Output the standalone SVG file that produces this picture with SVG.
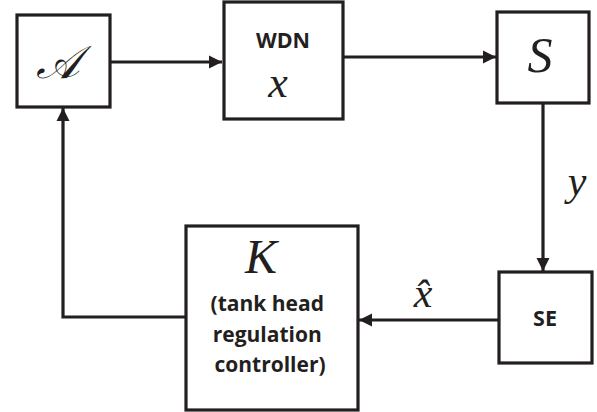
<svg xmlns="http://www.w3.org/2000/svg" width="597" height="412" viewBox="0 0 597 412">
<style>
.box{fill:#fff;stroke:#231f20;stroke-width:3.2}
.ln{fill:none;stroke:#231f20;stroke-width:3.2}
.math{font-family:"Liberation Serif","DejaVu Serif",serif;font-style:italic;fill:#231f20}
.lbl{font-family:"Open Sans",Lato,"Liberation Sans",sans-serif;font-weight:bold;fill:#231f20}
</style>
<defs>
<marker id="ah" markerUnits="userSpaceOnUse" markerWidth="14" markerHeight="14" viewBox="0 0 14 14" refX="13" refY="7" orient="auto">
<path d="M0,0.5 L13,7 L0,13.5 Z" fill="#231f20"/>
</marker>
</defs>
<g id="connectors">
<line class="ln" x1="110" y1="62" x2="222" y2="62" marker-end="url(#ah)"/>
<line class="ln" x1="343" y1="57" x2="496" y2="57" marker-end="url(#ah)"/>
<line class="ln" x1="543" y1="103" x2="543" y2="271" marker-end="url(#ah)"/>
<line class="ln" x1="499" y1="320" x2="359" y2="320" marker-end="url(#ah)"/>
<polyline class="ln" points="186,317 63,317 63,108" marker-end="url(#ah)"/>
<text class="math" x="577" y="195" font-size="42" text-anchor="middle">y</text>
<text class="math" x="423" y="307" font-size="42" text-anchor="middle">x̂</text>
</g>
<g id="node-A">
<rect class="box" x="17" y="15" width="93" height="92"/>
<text class="math" x="58" y="78" font-size="46" text-anchor="middle">𝒜</text>
</g>
<g id="node-WDN">
<rect class="box" x="224" y="2" width="119" height="117"/>
<text class="lbl" x="283" y="48" font-size="21.5" text-anchor="middle">WDN</text>
<text class="math" x="278" y="97" font-size="44" text-anchor="middle">x</text>
</g>
<g id="node-S">
<rect class="box" x="497" y="12" width="92" height="91"/>
<text class="math" x="540" y="72" font-size="50" text-anchor="middle">S</text>
</g>
<g id="node-SE">
<rect class="box" x="499" y="272" width="93" height="91"/>
<text class="lbl" x="545" y="326" font-size="21.5" text-anchor="middle">SE</text>
</g>
<g id="node-K">
<rect class="box" x="186" y="226" width="172" height="184"/>
<text class="math" x="261" y="273" font-size="48" text-anchor="middle">K</text>
<text class="lbl" font-size="21" text-anchor="middle">
<tspan x="270" y="311">(tank head</tspan>
<tspan x="270" y="342">regulation</tspan>
<tspan x="270" y="372">controller)</tspan>
</text>
</g>
</svg>
